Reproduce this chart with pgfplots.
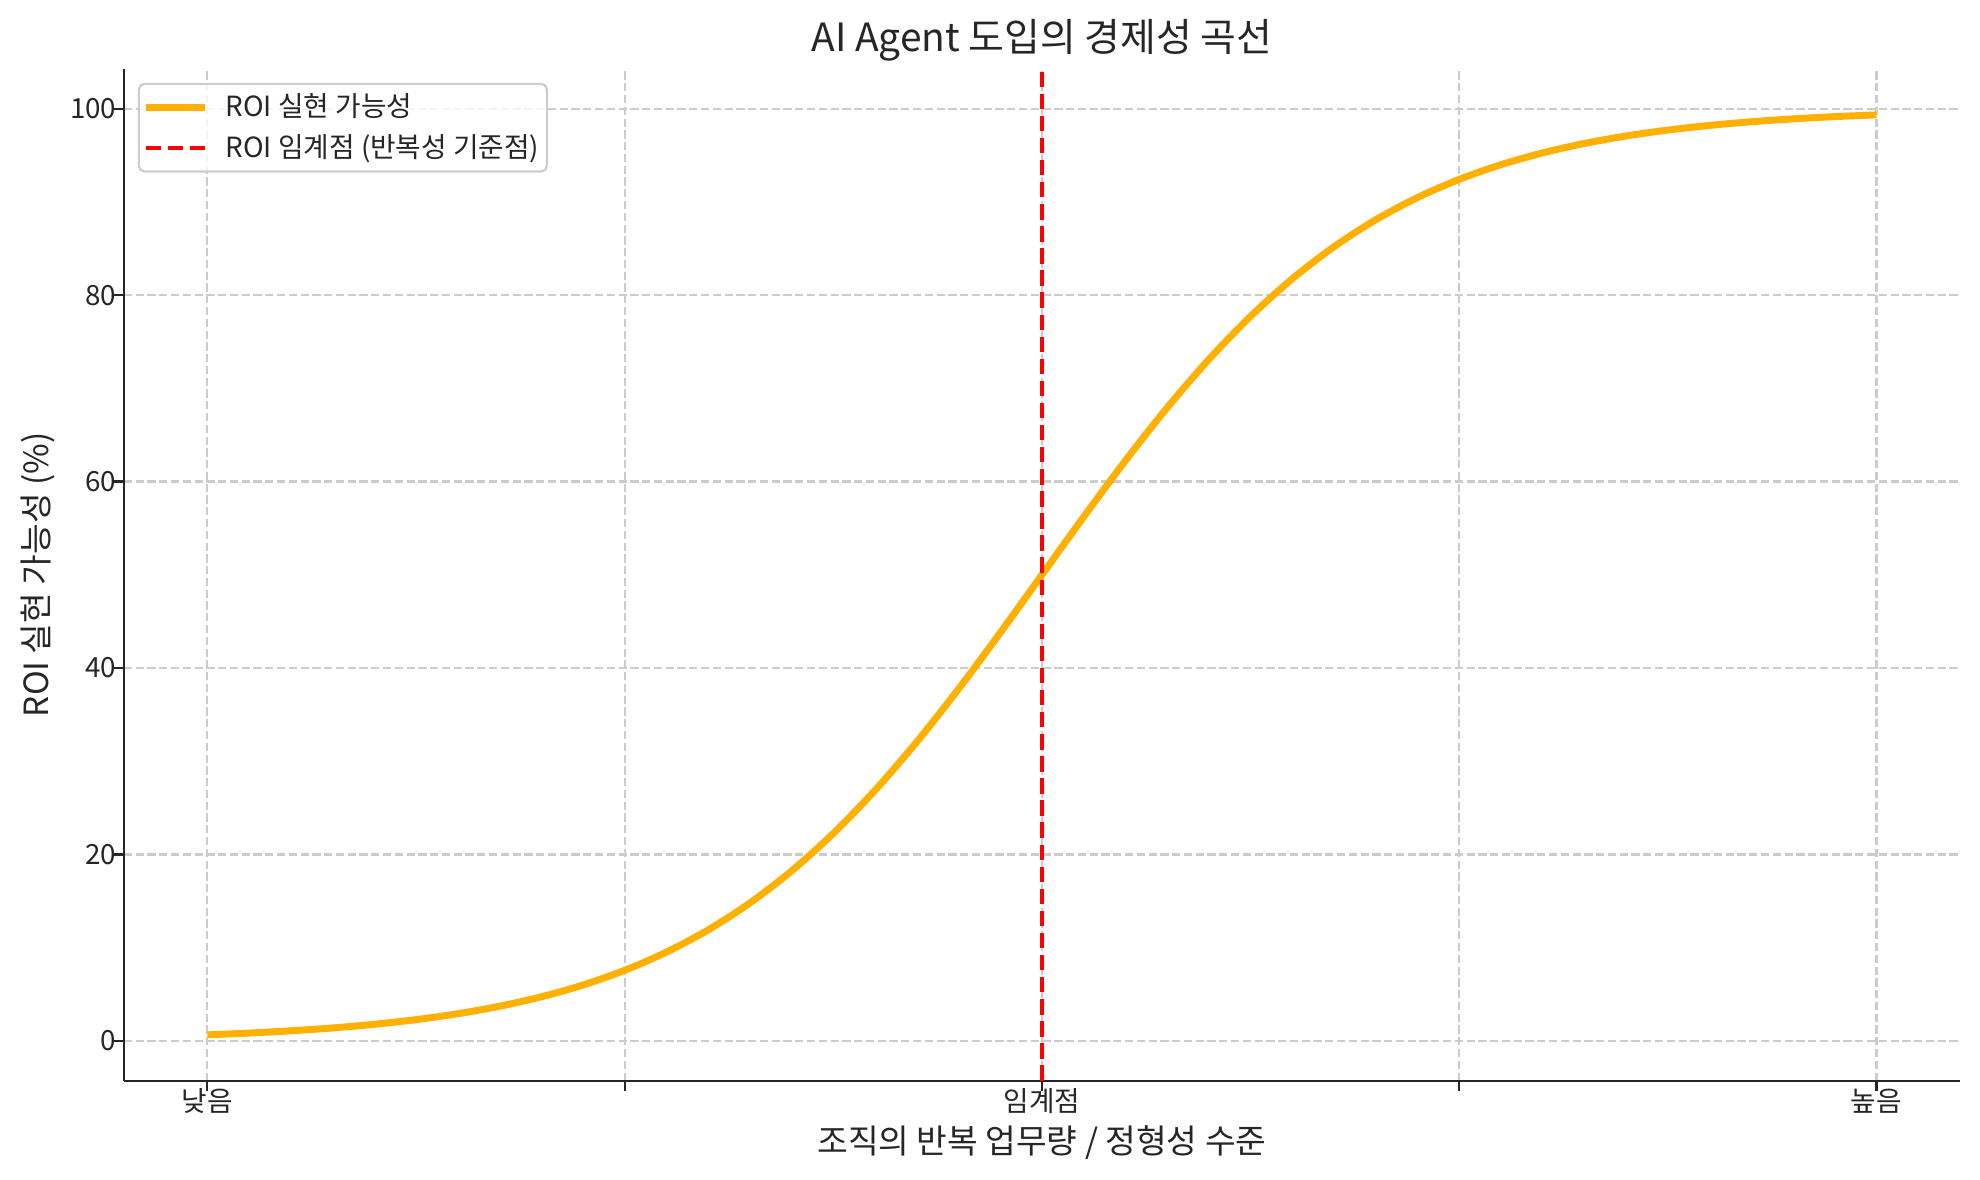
\documentclass[border=0pt]{standalone}
\usepackage{fontspec}
\setmainfont{Noto Sans CJK KR}
\usepackage{pgfplots}
\pgfplotsset{compat=1.18}
\definecolor{roiorange}{HTML}{FFB000}
\definecolor{gridgray}{HTML}{CCCCCC}
\definecolor{textgray}{HTML}{262626}

\begin{document}
\begin{tikzpicture}
\begin{axis}[
  at={(0,0)}, anchor=south west,
  scale only axis, width=661pt, height=364.3pt,
  xmin=-0.5, xmax=10.5, ymin=-4.264, ymax=104.264,
  axis lines*=left,
  axis line style={line width=0.8pt, color=textgray},
  tick align=outside, major tick length=3.5pt,
  tick style={line width=0.8pt, color=textgray},
  xtick pos=left, ytick pos=left,
  xtick={0,2.5,5,7.5,10},
  xticklabels={낮음,,임계점,,높음},
  ytick={0,20,40,60,80,100},
  /pgf/number format/assume math mode=true,
  ticklabel style={font=\fontsize{10}{12}\selectfont, text=textgray},
  xticklabel style={inner sep=0pt, anchor=base, yshift=-7.5pt},
  yticklabel style={inner sep=0pt, anchor=east, xshift=1pt},
  grid=major,
  major grid style={color=gridgray, line width=0.8pt, dash pattern=on 2.96pt off 1.28pt},
  title={AI Agent 도입의 경제성 곡선},
  title style={at={(axis description cs:0.5,1.0005)}, anchor=base, inner sep=0pt,
    font=\fontsize{14}{17}\selectfont, text=textgray},
  xlabel={조직의 반복 업무량 / 정형성 수준},
  xlabel style={at={(axis description cs:0.5,-0.0722)}, anchor=base, inner sep=0pt,
    font=\fontsize{12}{14}\selectfont, text=textgray},
  ylabel={ROI 실현 가능성 (\%)},
  ylabel style={at={(axis description cs:-0.0411,0.5)}, anchor=base, inner sep=0pt,
    font=\fontsize{12}{14}\selectfont, text=textgray},
  legend style={at={(axis description cs:0,1)}, anchor=north west,
    xshift=5pt, yshift=-5pt, draw=gridgray, line width=0.8pt,
    rounded corners=2pt, fill=white, fill opacity=0.8, text opacity=1,
    font=\fontsize{10}{12}\selectfont, text=textgray,
    inner xsep=1.2pt, inner ysep=2pt, row sep=2pt,
    nodes={inner sep=1.5pt}},
  legend cell align=left,
  legend image code/.code={\draw[#1] (0pt,0pt) -- (21.5pt,0pt); \path (26pt,0pt);},
]
% ROI 실현 가능성
\addplot[color=roiorange, line width=2.5pt, line join=round, smooth] coordinates {
  (0,0.6693) (0.25,0.8577) (0.5,1.0987) (0.75,1.4064) (1,1.7986)
  (1.25,2.2977) (1.5,2.9312) (1.75,3.7327) (2,4.7426) (2.25,6.0086)
  (2.5,7.5858) (2.75,9.5349) (3,11.920) (3.25,14.805) (3.5,18.243)
  (3.75,22.270) (4,26.894) (4.25,32.082) (4.5,37.754) (4.75,43.782)
  (5,50.000) (5.25,56.218) (5.5,62.246) (5.75,67.918) (6,73.106)
  (6.25,77.730) (6.5,81.757) (6.75,85.195) (7,88.080) (7.25,90.465)
  (7.5,92.414) (7.75,93.991) (8,95.257) (8.25,96.267) (8.5,97.069)
  (8.75,97.702) (9,98.201) (9.25,98.594) (9.5,98.901) (9.75,99.142)
  (10,99.331)
};
\addlegendentry{ROI 실현 가능성}
% 임계점
\addplot[color=red, line width=1.5pt, dash pattern=on 5.55pt off 2.4pt] coordinates {
  (5,-4.264) (5,104.264)
};
\addlegendentry{ROI 임계점 (반복성 기준점)}
\end{axis}
\pgfresetboundingbox
\path[use as bounding box] (-44.6pt,-35.6pt) rectangle (668.2pt,389.1pt);
\end{tikzpicture}
\end{document}
